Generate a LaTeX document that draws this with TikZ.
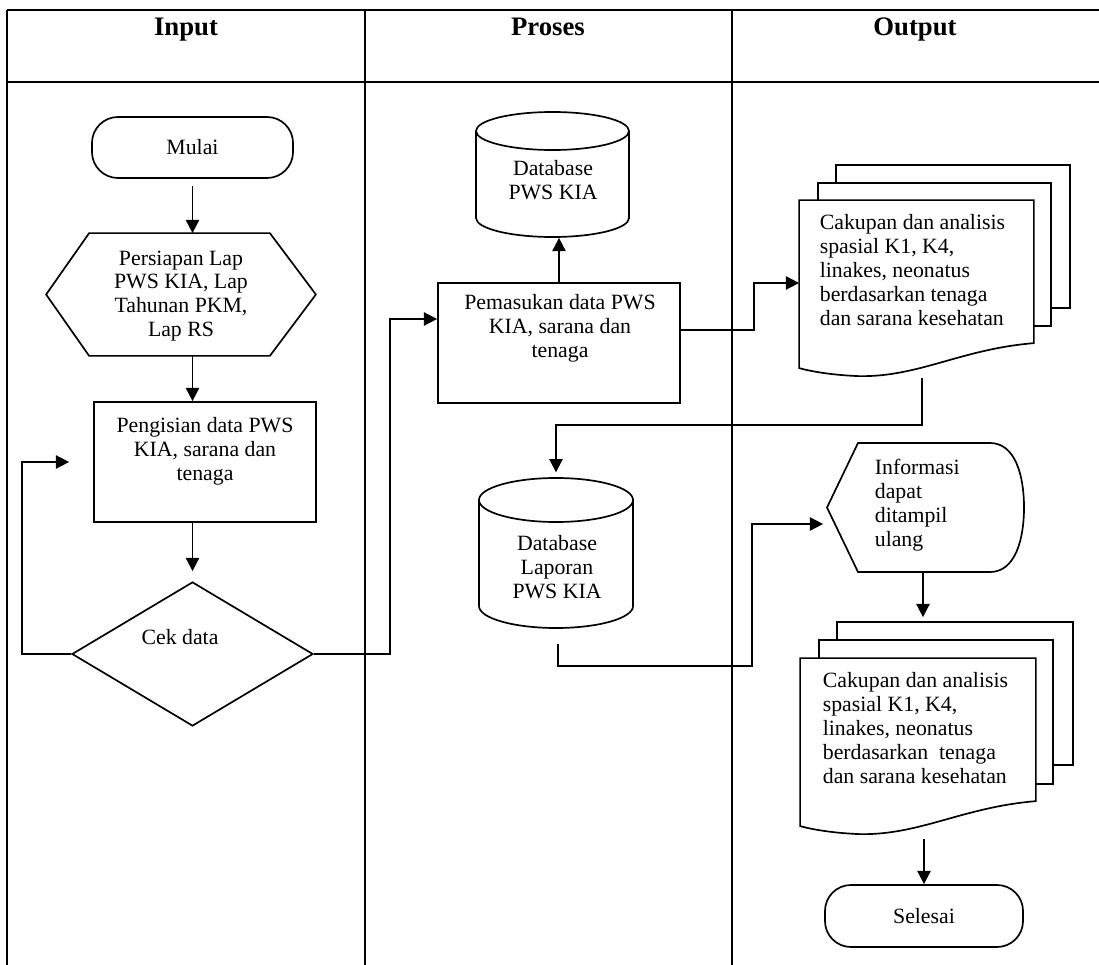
\documentclass[tikz,border=0pt]{standalone}
\usepackage{fontspec}
\setmainfont{Liberation Serif}
\usetikzlibrary{arrows.meta,shapes.geometric,calc}
\newcommand{\mydocfront}[1]{%
  \draw[fill=white] (#1.north west) -- (#1.north east) -- ($(#1.north east)+(0,143)$)
    .. controls ($(#1.north east)+(-73,149)$) and ($(#1.north west)+(120,177)$) .. ($(#1.north west)+(60,176)$)
    .. controls ($(#1.north west)+(35,175)$) and ($(#1.north west)+(15,172)$) .. ($(#1.north west)+(0,168)$) -- cycle;}
\begin{document}
\begin{tikzpicture}[x=0.025cm,y=-0.025cm,line width=1.2pt,
  >={Triangle[length=3.3mm,width=3.3mm]},
  hdr/.style={font=\bfseries\fontsize{19}{22}\selectfont,inner sep=0,anchor=base},
  txt/.style={font=\fontsize{15.5}{17}\selectfont,align=center,inner sep=0},
  ltxt/.style={font=\fontsize{15.5}{17}\selectfont,align=left,inner sep=0},
  box/.style={draw,rectangle,inner sep=0,fill=white},
  term/.style={draw,rectangle,rounded corners=0.65cm,inner sep=0,fill=white},
  ghost/.style={draw=none,rectangle,inner sep=0},
  page/.style={draw,rectangle,inner sep=0,fill=white}]
\useasboundingbox (0,0) rectangle (1099,965);
% frame
\draw (7,10) -- (1099,10);
\draw (7,82) -- (1099,82);
\draw (7,10) -- (7,965);
\draw (365,10) -- (365,965);
\draw (732,10) -- (732,965);
\node[hdr] (hin) at (186,36) {Input};
\node[hdr] (hpr) at (548,36) {Proses};
\node[hdr] (hout) at (915,36) {Output};
% Input column
\node[term,minimum width=5.025cm,minimum height=1.525cm,txt] (mulai) at (192.5,147.5) {Mulai};
\node[ghost,minimum width=6.7cm,minimum height=3.025cm] (persiapan) at (181,294.5) {};
\draw[fill=white] (persiapan.west) -- ($(persiapan.north west)+(43,0)$) -- ($(persiapan.north east)+(-46,0)$)
  -- (persiapan.east) -- ($(persiapan.south east)+(-46,0)$) -- ($(persiapan.south west)+(43,0)$) -- cycle;
\node[txt] (tpersiapan) at (181,296) {Persiapan Lap\\PWS KIA, Lap\\Tahunan PKM,\\Lap RS};
\node[box,minimum width=5.55cm,minimum height=3cm] (pengisian) at (205,462) {};
\node[txt] (tpengisian) at (205,451) {Pengisian data PWS\\KIA, sarana dan\\tenaga};
\node[diamond,draw,fill=white,minimum width=6.025cm,minimum height=3.6cm,inner sep=0] (cek) at (192.5,654) {};
\node[txt] (tcek) at (180,637) {Cek data};
\coordinate (loopend) at ($(pengisian.west)+(-24,0)$);
% Proses column
\node[box,minimum width=6.05cm,minimum height=3cm] (pemasukan) at (559,343) {};
\node[txt] (tpemasukan) at (560,328) {Pemasukan data PWS\\KIA, sarana dan\\tenaga};
\node[ghost,minimum width=3.825cm,minimum height=3.125cm] (db1) at (552.5,174.5) {};
\draw[fill=white] (476,131) -- (476,218) arc[start angle=180,end angle=360,x radius=1.9125cm,y radius=0.475cm] -- (629,131);
\draw[fill=white] (552.5,131) ellipse[x radius=1.9125cm,y radius=0.475cm];
\node[txt] (tdb1) at (553,180) {Database\\PWS KIA};
\node[ghost,minimum width=3.85cm,minimum height=3.75cm] (db2) at (556,553) {};
\draw[fill=white] (479,500) -- (479,606) arc[start angle=180,end angle=360,x radius=1.925cm,y radius=0.55cm] -- (633,500);
\draw[fill=white] (556,500) ellipse[x radius=1.925cm,y radius=0.55cm];
\node[txt] (tdb2) at (557,567) {Database\\Laporan\\PWS KIA};
% Output column
\node[page,minimum width=5.85cm,minimum height=3.575cm] (doc1back) at (953,236.5) {};
\node[page,minimum width=5.825cm,minimum height=3.575cm] (doc1mid) at (934.5,254.5) {};
\node[ghost,minimum width=5.825cm,minimum height=4.4cm] (doc1) at (916.5,289) {};
\mydocfront{doc1}
\node[ltxt,anchor=west] (tdoc1) at (819,270) {Cakupan dan analisis\\spasial K1, K4,\\linakes, neonatus\\berdasarkan tenaga\\dan sarana kesehatan};
\node[ghost,minimum width=4.925cm,minimum height=3.225cm] (info) at (925.5,507.5) {};
\draw[fill=white] (827,507.5) -- (858,443) -- (990,443) .. controls (1015,443) and (1024,475) .. (1024,507.5)
  .. controls (1024,540) and (1015,572) .. (990,572) -- (858,572) -- cycle;
\node[ltxt,anchor=west] (tinfo) at (874,505) {Informasi\\dapat\\ditampil\\ulang};
\coordinate (infoin) at ($(info.west)+(-3,16.5)$);
\node[page,minimum width=5.9cm,minimum height=3.575cm] (doc2back) at (955,693.5) {};
\node[page,minimum width=5.85cm,minimum height=3.6cm] (doc2mid) at (936,712) {};
\node[ghost,minimum width=5.85cm,minimum height=4.4cm] (doc2) at (918,747) {};
\mydocfront{doc2}
\node[ltxt,anchor=west] (tdoc2) at (822,728) {Cakupan dan analisis\\spasial K1, K4,\\linakes, neonatus\\berdasarkan~ tenaga\\dan sarana kesehatan};
\node[term,minimum width=4.95cm,minimum height=1.55cm,txt] (selesai) at (924,916) {Selesai};
% connectors
\draw[->,shorten <=0.175cm] (mulai.south) -- (mulai.south |- persiapan.north);
\draw[->] (mulai.south |- persiapan.south) -- (mulai.south |- pengisian.north);
\draw[->,shorten >=0.25cm] (cek.north |- pengisian.south) -- (cek.north);
\draw[->] (cek.west) -- ++(-49,0) |- (loopend);
\draw[->] (cek.east) -- ++(76,0) |- ($(pemasukan.west)+(0,-24)$);
\draw[->] (pemasukan.north) -- (pemasukan.north |- db1.south);
\draw[->] ($(pemasukan.east)+(0,-13)$) -- ++(73,0) |- ($(doc1.west)+(0,-6)$);
\draw[->,shorten >=0.12cm] ($(doc1.south)+(5.5,0)$) -- ++(0,47) -| (db2.north);
\draw[->] ($(db2.south)+(2,15)$) |- (752,666) |- (infoin);
\draw[->,shorten >=0.1cm] ($(info.south)+(-2.5,0)$) -- ($(info.south |- doc2back.north)+(-2.5,0)$);
\draw[->] ($(selesai.north |- doc2.south)+(0,3)$) -- (selesai.north);
\end{tikzpicture}
\end{document}
